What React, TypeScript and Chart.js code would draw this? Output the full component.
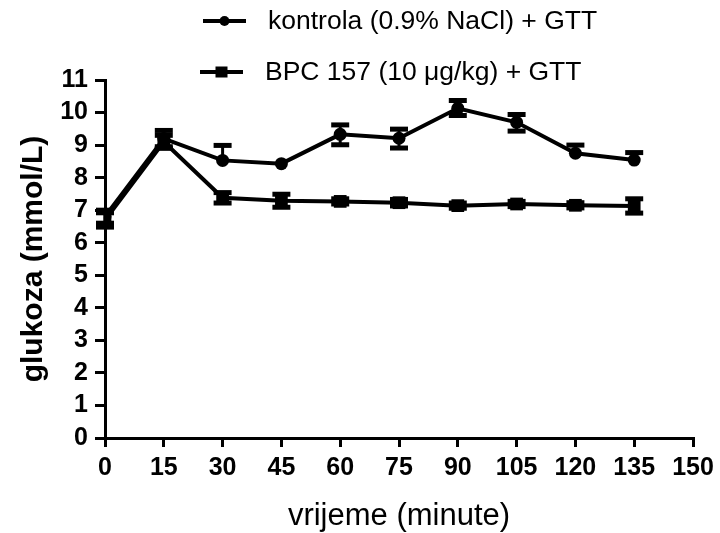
import React, { useEffect, useRef } from 'react';
import { Chart, registerables } from 'chart.js';

Chart.register(...registerables);

const times = [0, 15, 30, 45, 60, 75, 90, 105, 120, 135];
const xTicks = [0, 15, 30, 45, 60, 75, 90, 105, 120, 135, 150];
const yTicks = [0, 1, 2, 3, 4, 5, 6, 7, 8, 9, 10, 11];

const controlLabel = 'kontrola (0.9% NaCl) + GTT';
const controlValues = [6.8, 9.2, 8.53, 8.43, 9.33, 9.21, 10.13, 9.7, 8.75, 8.54];
const controlErrUp = [0.2, 0.25, 0.46, 0.0, 0.29, 0.28, 0.24, 0.24, 0.25, 0.23];
const controlErrDown = [0.2, 0.25, 0.0, 0.0, 0.32, 0.3, 0.22, 0.27, 0.0, 0.0];

const bpcLabel = 'BPC 157 (10 μg/kg) + GTT';
const bpcValues = [6.7, 9.1, 7.38, 7.29, 7.27, 7.23, 7.14, 7.19, 7.15, 7.13];
const bpcErrUp = [0.22, 0.2, 0.16, 0.2, 0.08, 0.1, 0.08, 0.08, 0.08, 0.22];
const bpcErrDown = [0.22, 0.2, 0.16, 0.2, 0.08, 0.1, 0.08, 0.08, 0.08, 0.22];

const xTitle = 'vrijeme (minute)';
const yTitle = 'glukoza (mmol/L)';

const FONT = "'Liberation Sans', Arial, Helvetica, sans-serif";

const errors = [
  { up: controlErrUp, down: controlErrDown },
  { up: bpcErrUp, down: bpcErrDown },
];

const errorBarPlugin = {
  id: 'errorBars',
  beforeDatasetsDraw(chart: any) {
    const { ctx } = chart;
    const xs = chart.scales.x;
    const ys = chart.scales.y;
    ctx.save();
    ctx.strokeStyle = '#000';
    chart.data.datasets.forEach((ds: any, i: number) => {
      const e = errors[i];
      ds.data.forEach((pt: any, j: number) => {
        const px = xs.getPixelForValue(pt.x);
        const py = ys.getPixelForValue(pt.y);
        const ends: number[] = [];
        if (e.up[j] > 0) ends.push(pt.y + e.up[j]);
        if (e.down[j] > 0) ends.push(pt.y - e.down[j]);
        ends.forEach((v) => {
          const ey = ys.getPixelForValue(v);
          ctx.lineWidth = 3;
          ctx.beginPath();
          ctx.moveTo(px, py);
          ctx.lineTo(px, ey);
          ctx.stroke();
          ctx.lineWidth = 5;
          ctx.beginPath();
          ctx.moveTo(px - 9, ey);
          ctx.lineTo(px + 9, ey);
          ctx.stroke();
        });
      });
    });
    ctx.restore();
  },
};

const legendPlugin = {
  id: 'customLegend',
  afterDraw(chart: any) {
    const { ctx } = chart;
    const rows = [21, 72];
    const lineStarts = [203, 200];
    const textStarts = [268, 265];
    ctx.save();
    chart.data.datasets.forEach((ds: any, i: number) => {
      const y = rows[i];
      const x0 = lineStarts[i];
      const x1 = x0 + 43;
      const cx = (x0 + x1) / 2;
      ctx.strokeStyle = '#000';
      ctx.fillStyle = '#000';
      ctx.lineWidth = 4;
      ctx.beginPath();
      ctx.moveTo(x0, y);
      ctx.lineTo(x1, y);
      ctx.stroke();
      if (ds.pointStyle === 'circle') {
        ctx.beginPath();
        ctx.arc(cx, y, 5, 0, Math.PI * 2);
        ctx.fill();
      } else {
        ctx.fillRect(cx - 6, y - 5.5, 12, 11);
      }
      ctx.font = `26.5px ${FONT}`;
      ctx.textBaseline = 'middle';
      ctx.textAlign = 'left';
      ctx.fillText(ds.label, textStarts[i], y + 1);
    });
    ctx.restore();
  },
};

export default function App() {
  const ref = useRef<HTMLCanvasElement | null>(null);

  useEffect(() => {
    if (!ref.current) return;
    const chart = new Chart(ref.current, {
      type: 'line',
      data: {
        datasets: [
          {
            label: controlLabel,
            data: times.map((t, i) => ({ x: t, y: controlValues[i] })),
            borderColor: '#000',
            backgroundColor: '#000',
            borderWidth: 4,
            pointStyle: 'circle',
            pointRadius: 6.5,
            pointBorderWidth: 0,
            pointBackgroundColor: '#000',
            tension: 0,
          },
          {
            label: bpcLabel,
            data: times.map((t, i) => ({ x: t, y: bpcValues[i] })),
            borderColor: '#000',
            backgroundColor: '#000',
            borderWidth: 4,
            pointStyle: 'rect',
            pointRadius: 9,
            pointBorderWidth: 0,
            pointBackgroundColor: '#000',
            tension: 0,
          },
        ],
      },
      options: {
        responsive: false,
        animation: false,
        devicePixelRatio: 1,
        layout: { padding: { top: 80, right: 27, left: 0, bottom: 0 } },
        plugins: {
          legend: { display: false },
          tooltip: { enabled: false },
        },
        scales: {
          x: {
            type: 'linear',
            min: 0,
            max: 150,
            afterBuildTicks: (s: any) => {
              s.ticks = xTicks.map((v) => ({ value: v }));
            },
            afterFit: (s: any) => {
              s.height = 95;
            },
            ticks: {
              color: '#000',
              font: { family: FONT, size: 25, weight: 'bold' },
              padding: 6,
              maxRotation: 0,
              autoSkip: false,
            },
            grid: {
              drawOnChartArea: false,
              drawTicks: true,
              tickLength: 9,
              lineWidth: 3,
              color: '#000',
            },
            border: { display: true, color: '#000', width: 3 },
            title: {
              display: true,
              text: xTitle,
              color: '#000',
              font: { family: FONT, size: 31, weight: 'normal', lineHeight: 1 },
              padding: { top: 0, bottom: 1 },
            },
          },
          y: {
            type: 'linear',
            min: 0,
            max: 11,
            afterBuildTicks: (s: any) => {
              s.ticks = yTicks.map((v) => ({ value: v }));
            },
            afterFit: (s: any) => {
              s.width = 105;
            },
            ticks: {
              color: '#000',
              font: { family: FONT, size: 25, weight: 'bold' },
              padding: 7,
              autoSkip: false,
            },
            grid: {
              drawOnChartArea: false,
              drawTicks: true,
              tickLength: 10,
              lineWidth: 3,
              color: '#000',
            },
            border: { display: true, color: '#000', width: 3 },
            title: {
              display: true,
              text: yTitle,
              color: '#000',
              font: { family: FONT, size: 30, weight: 'bold', lineHeight: 1 },
              padding: { top: 19, bottom: 0 },
            },
          },
        },
      } as any,
      plugins: [errorBarPlugin, legendPlugin],
    });
    return () => chart.destroy();
  }, []);

  return (
    <div style={{ position: 'absolute', left: 0, top: 0, width: 720, height: 533 }}>
      <canvas ref={ref} width={720} height={533} style={{ display: 'block' }} />
    </div>
  );
}
